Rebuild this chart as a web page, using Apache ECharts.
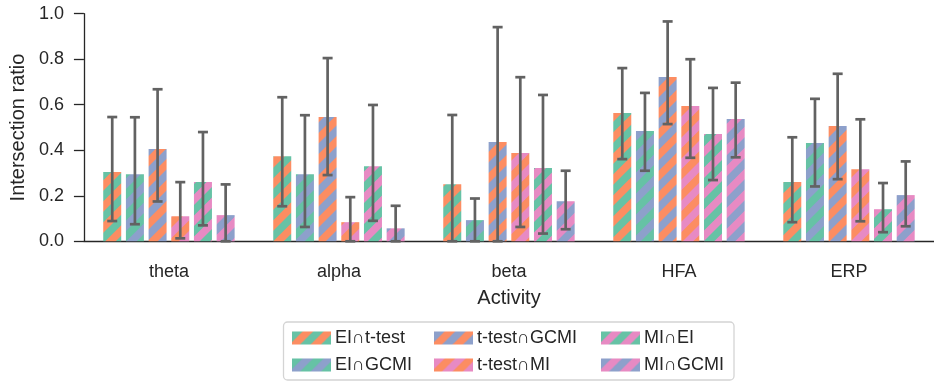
<!DOCTYPE html>
<html>
<head>
<meta charset="utf-8">
<script src="https://cdn.jsdelivr.net/npm/echarts@6/dist/echarts.min.js"></script>
<style>
  html, body { margin: 0; padding: 0; background: #fff; }
  #chart { width: 934px; height: 381px; }
</style>
</head>
<body>
<div id="chart"></div>
<script>
var categories = ['theta', 'alpha', 'beta', 'HFA', 'ERP'];
var seriesNames = ['EI∩t-test', 'EI∩GCMI', 't-test∩GCMI', 't-test∩MI', 'MI∩EI', 'MI∩GCMI'];

// bar heights (mean ratio) per series, one value per category
var meanEIttest = [0.304, 0.374, 0.251, 0.564, 0.260];
var meanEIGCMI = [0.295, 0.295, 0.093, 0.485, 0.432];
var meanTtestGCMI = [0.405, 0.546, 0.436, 0.722, 0.507];
var meanTtestMI = [0.110, 0.084, 0.388, 0.595, 0.317];
var meanMIEI = [0.260, 0.330, 0.322, 0.471, 0.141];
var meanMIGCMI = [0.115, 0.057, 0.176, 0.537, 0.203];

// error bar ends
var highEIttest = [0.546, 0.633, 0.555, 0.761, 0.457];
var highEIGCMI = [0.545, 0.554, 0.188, 0.652, 0.626];
var highTtestGCMI = [0.668, 0.805, 0.941, 0.966, 0.736];
var highTtestMI = [0.260, 0.194, 0.721, 0.800, 0.536];
var highMIEI = [0.480, 0.599, 0.643, 0.674, 0.256];
var highMIGCMI = [0.250, 0.156, 0.310, 0.697, 0.351];

var lowEIttest = [0.089, 0.154, 0.0, 0.361, 0.084];
var lowEIGCMI = [0.075, 0.063, 0.0, 0.310, 0.241];
var lowTtestGCMI = [0.175, 0.291, 0.0, 0.515, 0.273];
var lowTtestMI = [0.013, 0.0, 0.063, 0.367, 0.088];
var lowMIEI = [0.070, 0.090, 0.034, 0.269, 0.040];
var lowMIGCMI = [0.0, 0.0, 0.053, 0.369, 0.066];

var yTicks = [0, 0.2, 0.4, 0.6, 0.8, 1.0];

var means = [meanEIttest, meanEIGCMI, meanTtestGCMI, meanTtestMI, meanMIEI, meanMIGCMI];
var highs = [highEIttest, highEIGCMI, highTtestGCMI, highTtestMI, highMIEI, highMIGCMI];
var lows = [lowEIttest, lowEIGCMI, lowTtestGCMI, lowTtestMI, lowMIEI, lowMIGCMI];

var ORANGE = '#fc8d62', GREEN = '#66c2a5', BLUE = '#8da0cb', PINK = '#e78ac3';
var stripeColors = [
  [ORANGE, GREEN],
  [BLUE, GREEN],
  [ORANGE, BLUE],
  [ORANGE, PINK],
  [PINK, GREEN],
  [PINK, BLUE]
];

var FONT = "'Liberation Sans', Arial, sans-serif";
var INK = '#262626';
var BAR_W = 18;
var BAR_GAP = 0.26;

// diagonal two colour stripes, like matplotlib hatching
function stripe(c1, c2) {
  var p = 21;
  var cv = document.createElement('canvas');
  cv.width = p;
  cv.height = p;
  var ctx = cv.getContext('2d');
  ctx.fillStyle = c1;
  ctx.fillRect(0, 0, p, p);
  ctx.fillStyle = c2;
  ctx.beginPath();
  ctx.moveTo(0, 0); ctx.lineTo(p / 2, 0); ctx.lineTo(0, p / 2);
  ctx.closePath();
  ctx.fill();
  ctx.beginPath();
  ctx.moveTo(p, 0); ctx.lineTo(p, p / 2); ctx.lineTo(p / 2, p); ctx.lineTo(0, p);
  ctx.closePath();
  ctx.fill();
  return { image: cv, repeat: 'repeat' };
}

var chart = echarts.init(document.getElementById('chart'), null, { renderer: 'canvas' });

var series = [];
var errData = [];
for (var i = 0; i < seriesNames.length; i++) {
  series.push({
    name: seriesNames[i],
    type: 'bar',
    barWidth: BAR_W,
    barGap: (BAR_GAP * 100) + '%',
    itemStyle: { color: stripe(stripeColors[i][0], stripeColors[i][1]) },
    data: means[i]
  });
  for (var j = 0; j < categories.length; j++) {
    errData.push([j, i, lows[i][j], highs[i][j]]);
  }
}

series.push({
  name: 'err',
  type: 'custom',
  z: 5,
  silent: true,
  encode: { x: 0, y: [2, 3] },
  data: errData,
  renderItem: function (params, api) {
    var pitch = BAR_W * (1 + BAR_GAP);
    var x = api.coord([api.value(0), 0])[0] + (api.value(1) - 2.5) * pitch;
    var y0 = api.coord([api.value(0), api.value(2)])[1];
    var y1 = api.coord([api.value(0), api.value(3)])[1];
    var st = { stroke: '#626262', lineWidth: 2.7, lineCap: 'butt' };
    return {
      type: 'group',
      children: [
        { type: 'line', shape: { x1: x, y1: y0, x2: x, y2: y1 }, style: st },
        { type: 'line', shape: { x1: x - 5, y1: y0, x2: x + 5, y2: y0 }, style: st },
        { type: 'line', shape: { x1: x - 5, y1: y1, x2: x + 5, y2: y1 }, style: st }
      ]
    };
  }
});

function legendCol(left, names) {
  return {
    orient: 'vertical',
    left: left,
    top: 329,
    padding: 0,
    itemGap: 9,
    itemWidth: 39,
    itemHeight: 13,
    icon: 'rect',
    selectedMode: false,
    data: names,
    textStyle: { fontFamily: FONT, fontSize: 18, color: INK, padding: [0, 0, 0, -1] }
  };
}

var option = {
  animation: false,
  textStyle: { fontFamily: FONT },
  grid: { left: 82.5, top: 13.7, width: 852.5, height: 227.6 },
  graphic: [{
    type: 'rect',
    z: -1,
    shape: { x: 283.5, y: 322, width: 450.5, height: 58, r: 4 },
    style: { fill: '#ffffff', stroke: '#d4d4d4', lineWidth: 1.3 }
  }],
  legend: [
    legendCol(292, [seriesNames[0], seriesNames[1]]),
    legendCol(434, [seriesNames[2], seriesNames[3]]),
    legendCol(601, [seriesNames[4], seriesNames[5]])
  ],
  xAxis: {
    type: 'category',
    data: categories,
    name: 'Activity',
    nameLocation: 'middle',
    nameGap: 47,
    nameTextStyle: { fontFamily: FONT, fontSize: 20, color: INK },
    axisLine: { lineStyle: { color: INK, width: 1.3 } },
    axisTick: { alignWithLabel: true, length: 10, lineStyle: { color: INK, width: 1.3 } },
    axisLabel: { fontFamily: FONT, fontSize: 18, color: INK, margin: 22 },
    splitLine: { show: false }
  },
  yAxis: {
    type: 'value',
    min: yTicks[0],
    max: yTicks[yTicks.length - 1],
    interval: 0.2,
    name: 'Intersection ratio',
    nameLocation: 'middle',
    nameGap: 54,
    nameTextStyle: { fontFamily: FONT, fontSize: 20, color: INK },
    axisLine: { show: true, lineStyle: { color: INK, width: 1.3 } },
    axisTick: { show: true, length: 10, lineStyle: { color: INK, width: 1.3 } },
    axisLabel: {
      fontFamily: FONT, fontSize: 18, color: INK, margin: 20,
      formatter: function (v) { return v.toFixed(1); }
    },
    splitLine: { show: false }
  },
  series: series
};

chart.setOption(option);
</script>
</body>
</html>
